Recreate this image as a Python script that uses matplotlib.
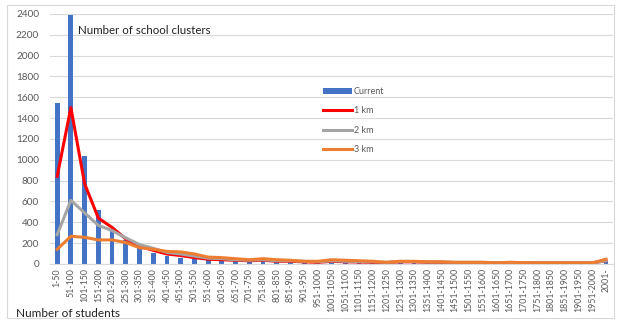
import matplotlib.pyplot as plt
import numpy as np

plt.rcParams['font.family'] = ['Lato', 'DejaVu Sans']

# student-count ranges
bins = ["%d-%d" % (lo, lo + 49) for lo in range(1, 2000, 50)] + ["2001-"]

current = [1540, 2390, 1040, 515, 330, 230, 150, 100, 75, 55,
           50, 40, 40, 35, 25, 25, 20, 15, 10, 10,
           10, 10, 8, 8, 8, 8, 8, 6, 6, 6,
           5, 5, 5, 5, 5, 4, 4, 4, 4, 4, 30]
km1 = [840, 1500, 770, 440, 350, 240, 170, 130, 95, 80,
       60, 45, 40, 35, 30, 35, 25, 25, 20, 15,
       25, 20, 18, 15, 12, 20, 20, 15, 15, 12,
       12, 12, 10, 10, 10, 10, 10, 10, 10, 10, 30]
km2 = [280, 610, 490, 370, 320, 250, 185, 150, 110, 95,
       75, 55, 50, 40, 35, 40, 30, 30, 25, 20,
       30, 25, 22, 20, 15, 22, 22, 18, 18, 15,
       15, 15, 12, 14, 12, 10, 10, 10, 10, 10, 30]
km3 = [140, 265, 255, 230, 230, 205, 155, 140, 120, 115,
       95, 65, 60, 50, 40, 50, 40, 35, 25, 25,
       40, 35, 30, 25, 15, 25, 25, 20, 20, 15,
       15, 15, 10, 15, 12, 10, 10, 10, 10, 10, 45]

x = np.arange(len(bins))

fig = plt.figure(figsize=(6.21, 3.23), dpi=100)
ax = fig.add_axes([0.081, 0.183, 0.906, 0.774])

b = ax.bar(x, current, width=0.35, color="#4472C4", label="Current", zorder=2)
l1, = ax.plot(x, km1, color="#FF0000", lw=2.2, label="1 km", zorder=3)
l2, = ax.plot(x, km2, color="#A5A5A5", lw=2.2, label="2 km", zorder=3)
l3, = ax.plot(x, km3, color="#ED7D31", lw=2.2, label="3 km", zorder=4)

ax.set_xlim(-0.5, len(bins) - 0.5)
ax.set_ylim(0, 2400)
ax.set_yticks(range(0, 2401, 200))
ax.set_xticks(x)
ax.set_xticklabels(bins, rotation=90, fontsize=6.3, color="#595959")
ax.tick_params(axis="y", labelsize=7.2, colors="#595959", length=0, pad=8)
ax.tick_params(axis="x", length=0, pad=3)
ax.grid(axis="y", color="#D9D9D9", lw=0.8, zorder=0)
for s in ["top", "right", "left"]:
    ax.spines[s].set_visible(False)
ax.spines["bottom"].set_color("#D9D9D9")

ax.text(0.05, 0.955, "Number of school clusters", transform=ax.transAxes,
        fontsize=8.3, va="top", color="#222222")
fig.text(0.026, 0.02, "Number of students", fontsize=8.5, color="#222222")

ax.legend([b, l1, l2, l3], ["Current", "1 km", "2 km", "3 km"],
          loc="upper left", bbox_to_anchor=(0.47, 0.74), frameon=False,
          fontsize=6.5, handlelength=3.2, handletextpad=0.2,
          labelspacing=1.15, labelcolor="#595959")

# thin frame round the chart
fig.patches.append(plt.Rectangle((0.012, 0.015), 0.976, 0.97, transform=fig.transFigure,
                                 fill=False, edgecolor="#D9D9D9", lw=0.8))

fig.savefig("out.png", dpi=100)
